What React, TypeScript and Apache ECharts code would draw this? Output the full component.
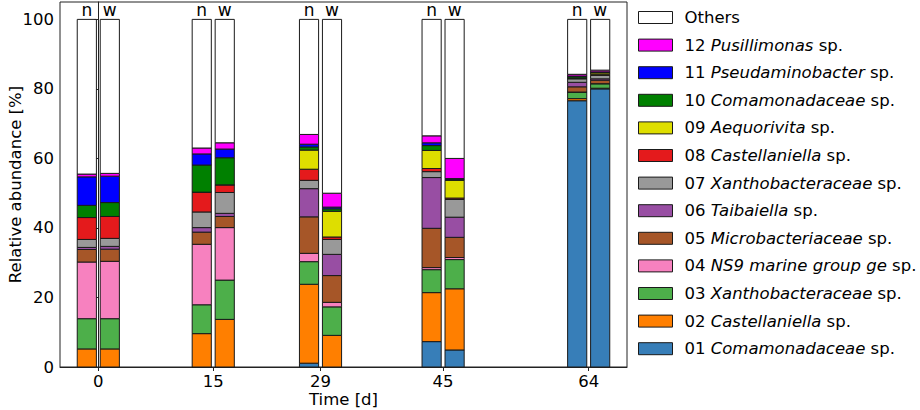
import React, { useEffect, useRef } from "react";
import * as echarts from "echarts";

// ---------------- data ----------------
const times = [0, 15, 29, 45, 64];
const samples = ["n", "w"];
const xTicks = [0, 15, 29, 45, 64];
const yTicks = [0, 20, 40, 60, 80, 100];

const taxaNumbers = ["01", "02", "03", "04", "05", "06", "07", "08", "09", "10", "11", "12"];
const taxaNames = [
  "Comamonadaceae",
  "Castellaniella",
  "Xanthobacteraceae",
  "NS9 marine group ge",
  "Microbacteriaceae",
  "Taibaiella",
  "Xanthobacteraceae",
  "Castellaniella",
  "Aequorivita",
  "Comamonadaceae",
  "Pseudaminobacter",
  "Pusillimonas",
];
const taxaColors = [
  "#377eb8",
  "#ff7f00",
  "#4daf4a",
  "#f781bf",
  "#a65628",
  "#984ea3",
  "#999999",
  "#e41a1c",
  "#dede00",
  "#008000",
  "#0000ff",
  "#ff00ff",
];
const othersColor = "#ffffff";

// values per bar: 0n, 0w, 15n, 15w, 29n, 29w, 45n, 45w, 64n, 64w  (%)
const sp01 = [0, 0, 0, 0, 1.1, 0, 7.3, 4.9, 76.6, 80.0];
const sp02 = [5.2, 5.2, 9.6, 13.7, 22.7, 9.1, 14.1, 17.6, 0.6, 0.2];
const sp03 = [8.7, 8.7, 8.3, 11.3, 6.5, 8.2, 6.6, 8.4, 1.9, 1.3];
const sp04 = [16.3, 16.5, 17.4, 15.1, 2.4, 1.3, 0.6, 0.6, 0, 0];
const sp05 = [3.6, 3.5, 3.5, 3.2, 10.5, 7.7, 11.3, 5.8, 1.5, 1.0];
const sp06 = [0.6, 0.8, 1.3, 0.9, 8.1, 6.1, 14.6, 5.8, 1.3, 0.4];
const sp07 = [2.3, 2.3, 4.5, 6.0, 2.4, 4.3, 1.7, 5.1, 1.0, 1.0];
const sp08 = [6.3, 6.3, 5.7, 2.2, 3.2, 0.7, 0.9, 0.4, 0.2, 0.2];
const sp09 = [0, 0, 0, 0, 5.5, 7.4, 5.2, 5.1, 0, 0.5];
const sp10 = [3.5, 4.0, 7.8, 7.8, 0.9, 0.7, 1.4, 0.3, 0.4, 0.2];
const sp11 = [8.2, 7.6, 3.2, 2.5, 0.8, 0.5, 0.8, 0.2, 0.2, 0.1];
const sp12 = [0.8, 0.8, 1.7, 1.8, 2.8, 4.0, 2.0, 5.8, 0.5, 0.5];
const others = [44.5, 44.3, 37.0, 35.5, 33.1, 50.0, 33.5, 40.0, 15.8, 14.6];

const taxaValues = [sp01, sp02, sp03, sp04, sp05, sp06, sp07, sp08, sp09, sp10, sp11, sp12];

// ---------------- layout constants ----------------
const FONT = "DejaVu Sans";
const BAR_W = 2.5;
const SAMPLE_OFFSET = [-1.5, 1.5];
const EDGE = "#1a1a1a";

export default function App() {
  const ref = useRef<HTMLDivElement>(null);

  useEffect(() => {
    document.body.style.margin = "0";
    if (!ref.current) return;
    const chart = echarts.init(ref.current, undefined, { renderer: "svg" });

    const barX: number[] = [];
    times.forEach((t) => samples.forEach((_, si) => barX.push(t + SAMPLE_OFFSET[si])));

    const allValues = [...taxaValues, others];
    const allNames = [
      ...taxaNumbers.map((n, i) => `${n} ${taxaNames[i]} sp.`),
      "Others",
    ];
    const allColors = [...taxaColors, othersColor];

    const cumulative = barX.map(() => 0);
    const series: any[] = allValues.map((vals, k) => {
      const data = vals.map((v, i) => {
        const base = cumulative[i];
        cumulative[i] = base + v;
        return [barX[i], base, base + v];
      });
      const color = allColors[k];
      return {
        type: "custom",
        name: allNames[k],
        itemStyle: { color, borderColor: EDGE, borderWidth: 1 },
        encode: { x: 0, y: [1, 2] },
        data,
        renderItem: (_params: any, api: any) => {
          const x = api.value(0);
          const b = api.value(1);
          const t = api.value(2);
          const p0 = api.coord([x - BAR_W / 2, t]);
          const p1 = api.coord([x + BAR_W / 2, b]);
          return {
            type: "rect",
            shape: {
              x: p0[0],
              y: p0[1],
              width: p1[0] - p0[0],
              height: p1[1] - p0[1],
            },
            style: { fill: color, stroke: EDGE, lineWidth: 1 },
          };
        },
      };
    });

    // sample labels above bars
    series.push({
      type: "custom",
      name: "sampleLabels",
      silent: true,
      encode: { x: 0, y: 1 },
      data: barX.map((x, i) => [x, 100, samples[i % samples.length]]),
      renderItem: (params: any, api: any) => {
        const p = api.coord([api.value(0), api.value(1)]);
        return {
          type: "text",
          x: p[0],
          y: p[1] - 1,
          style: {
            text: samples[params.dataIndex % samples.length],
            fontSize: 17,
            fontFamily: FONT,
            fill: "#000",
            align: "center",
            verticalAlign: "bottom",
          },
        };
      },
    });

    const legendOrder = [...allNames].reverse();

    chart.setOption({
      animation: false,
      textStyle: { fontFamily: FONT },
      grid: {
        left: 60,
        right: 293,
        top: 2,
        bottom: 43,
        outerBoundsMode: "none",
        containLabel: false,
        show: true,
        borderColor: "#222",
        borderWidth: 1,
        backgroundColor: "transparent",
      },
      xAxis: {
        type: "value",
        min: -5,
        max: 69,
        name: "Time [d]",
        nameLocation: "middle",
        nameMoveOverlap: false,
        nameGap: 24,
        nameTextStyle: { fontSize: 16.5, color: "#000", fontFamily: FONT },
        axisLine: { show: true, lineStyle: { color: "#222", width: 1 } },
        axisTick: { show: true, length: 4, customValues: xTicks, lineStyle: { color: "#222" } },
        axisLabel: {
          customValues: xTicks,
          fontSize: 16.5,
          color: "#000",
          fontFamily: FONT,
          margin: 6,
        },
        splitLine: { show: false },
      },
      yAxis: {
        type: "value",
        min: 0,
        max: 105,
        name: "Relative abundance [%]",
        nameLocation: "middle",
        nameMoveOverlap: false,
        nameGap: 36,
        nameTextStyle: { fontSize: 16.5, color: "#000", fontFamily: FONT },
        axisLine: { show: true, lineStyle: { color: "#222", width: 1 } },
        axisTick: { show: true, length: 4, customValues: yTicks, lineStyle: { color: "#222" } },
        axisLabel: {
          customValues: yTicks,
          fontSize: 16.5,
          color: "#000",
          fontFamily: FONT,
          margin: 6,
        },
        splitLine: { show: false },
      },
      legend: {
        orient: "vertical",
        left: 633,
        top: 4,
        icon: "rect",
        itemWidth: 34,
        itemHeight: 12,
        itemGap: 10.6,
        data: legendOrder,
        selectedMode: false,
        itemStyle: { borderColor: EDGE, borderWidth: 1 },
        textStyle: {
          fontSize: 16.5,
          color: "#000",
          fontFamily: FONT,
          padding: [0, 0, 0, 7],
          rich: {
            i: { fontStyle: "italic", fontSize: 16.5, color: "#000", fontFamily: FONT },
          },
        },
        formatter: (name: string) => {
          if (name === "Others") return name;
          const num = name.slice(0, 2);
          const genus = name.slice(3, name.length - 4);
          return `${num} {i|${genus}} sp.`;
        },
      },
      series,
    });

    return () => chart.dispose();
  }, []);

  return <div ref={ref} style={{ width: 920, height: 410 }} />;
}
